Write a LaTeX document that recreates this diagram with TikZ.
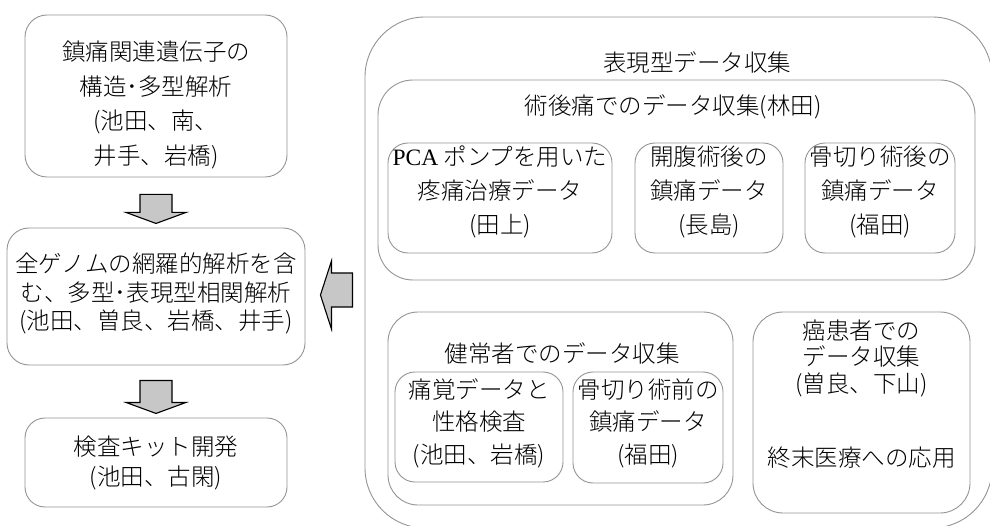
\documentclass[tikz,border=0pt]{standalone}
\usepackage{fontspec}
\setmainfont{Noto Sans CJK JP}[UprightFont={* Light}]
\newfontfamily\latinserif{Liberation Serif}
\usetikzlibrary{calc}
\begin{document}
\begin{tikzpicture}[x=1pt,y=-1pt,
  box/.style={draw=black!42, line width=0.9pt, rounded corners=#1, inner sep=0pt},
  box/.default=20pt,
  txt/.style={align=center, inner sep=0pt, text=black, font=\fontsize{23.5}{#1}\selectfont},
  txt/.default=34pt,
  blockarrow/.style={draw=black, line width=1.1pt, fill=black!22, line join=miter}]
\useasboundingbox (0,0) rectangle (990,526);
\fill[white] (0,0) rectangle (990,526);

% left column
\node[box=22pt, minimum width=262pt, minimum height=162pt] (b1) at (156,96) {};
\node[txt=34.7pt] (t1) at (156,105) {鎮痛関連遺伝子の\\構造･多型解析\\(池田、南、\\井手、岩橋)};
\node[box=22pt, minimum width=298pt, minimum height=137pt] (b2) at (156,296.5) {};
\node[txt=28.5pt] (t2) at (156,293.5) {全ゲノムの網羅的解析を含\\む、多型･表現型相関解析\\(池田、曽良、岩橋、井手)};
\node[box=20pt, minimum width=262pt, minimum height=89pt] (b3) at (156,462.5) {};
\node[txt=30pt] (t3) at (156,463) {検査キット開発\\(池田、古閑)};

% right side
\node[box=60pt, minimum width=627pt, minimum height=511pt] (outer) at (678.5,272.5) {};
\node[txt] (touter) at (697,63) {表現型データ収集};
\node[box=35pt, minimum width=597pt, minimum height=200pt] (post) at (676.5,180) {};
\node[txt] (tpost) at (673,107) {術後痛でのデータ収集(林田)};
\node[box, minimum width=224pt, minimum height=110pt] (pca) at (500,198) {};
\node[txt=34pt] (tpca) at (500,192) {{\latinserif PCA} ポンプを用いた\\疼痛治療データ\\(田上)};
\node[box, minimum width=148pt, minimum height=110pt] (kai) at (709,198) {};
\node[txt=34pt] (tkai) at (709,192) {開腹術後の\\鎮痛データ\\(長島)};
\node[box, minimum width=150pt, minimum height=110pt] (kot1) at (880,198) {};
\node[txt=34pt] (tkot1) at (880,192) {骨切り術後の\\鎮痛データ\\(福田)};

\node[box=30pt, minimum width=345pt, minimum height=193pt] (ken) at (560.5,408.5) {};
\node[txt] (tken) at (562,353) {健常者でのデータ収集};
\node[box, minimum width=168pt, minimum height=110pt] (tsu) at (479,427) {};
\node[txt=32.5pt] (ttsu) at (479,423) {痛覚データと\\性格検査\\(池田、岩橋)};
\node[box, minimum width=150pt, minimum height=111pt] (kot2) at (648,427.5) {};
\node[txt=32.5pt] (tkot2) at (648,423) {骨切り術前の\\鎮痛データ\\(福田)};
\node[box=30pt, minimum width=217pt, minimum height=201pt] (gan) at (861.5,412.5) {};
\node[txt=26.5pt] (tgan) at (861.5,394) {癌患者での\\データ収集\\(曽良、下山)\\[48pt]終末医療への応用};

% block arrows
\draw[blockarrow] ($(b1.south)+(-16,17)$) -- ++(32,0) -- ++(0,18) -- ++(14,0) -- ++(-30,11) -- ++(-30,-11) -- ++(14,0) -- cycle;
\draw[blockarrow] ($(b2.south)+(-16,15)$) -- ++(32,0) -- ++(0,22) -- ++(14,0) -- ++(-30,11) -- ++(-30,-11) -- ++(14,0) -- cycle;
\draw[blockarrow] ($(b2.east)+(15,-1.5)$) -- ++(11,-34) -- ++(0,12) -- ++(21,0) -- ++(0,34) -- ++(-21,0) -- ++(0,22) -- cycle;
\end{tikzpicture}
\end{document}
